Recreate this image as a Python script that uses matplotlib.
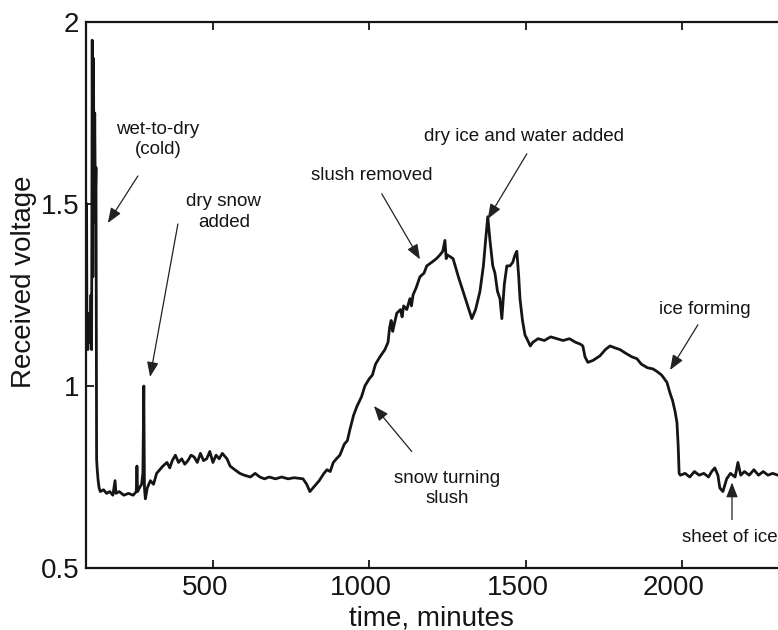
import matplotlib
matplotlib.use("Agg")
from matplotlib import pyplot as plt
import matplotlib.transforms as mtransforms

plt.rcParams['font.family'] = ['Liberation Sans', 'DejaVu Sans']

# received voltage trace (time in minutes)
time_min = [
    96, 97, 98, 100, 102, 104, 106, 108, 110, 112, 114, 116, 118, 120, 122, 124, 126, 127,
    128, 130, 133, 136, 140, 150, 160, 170, 180, 187, 190, 200, 215, 230, 245, 255,
    257, 259, 265, 272, 276, 279, 281, 284, 290, 300, 310, 320, 330, 340, 353, 362,
    370, 380, 390, 400, 410, 420, 430, 440, 450, 460, 470, 480, 490, 500, 510, 520,
    530, 545, 555, 570, 586, 600, 620, 635, 650, 665, 680, 700, 720, 740, 760, 788,
    800, 810, 820, 840, 855, 865, 875, 885, 895, 906, 920, 930, 938, 950, 961, 975,
    986, 1000, 1010, 1020, 1034, 1050, 1060, 1065, 1070, 1075, 1080, 1088, 1100, 1105,
    1110, 1120, 1130, 1135, 1140, 1150, 1162, 1175, 1184, 1200, 1215, 1226, 1235, 1242,
    1246, 1250, 1268, 1285, 1300, 1315, 1328, 1340, 1354, 1365, 1372, 1379, 1386, 1395,
    1402, 1410, 1418, 1424, 1432, 1440, 1450, 1459, 1466, 1472, 1478, 1482, 1490, 1498,
    1504, 1515, 1523, 1540, 1560, 1580, 1600, 1620, 1640, 1660, 1675, 1683, 1690, 1699,
    1715, 1738, 1755, 1770, 1785, 1802, 1820, 1840, 1856, 1870, 1890, 1907, 1920, 1935,
    1952, 1962, 1970, 1978, 1984, 1988, 1991, 1995, 2010, 2025, 2040, 2055, 2070, 2085,
    2095, 2105, 2115, 2121, 2131, 2143, 2155, 2170, 2179, 2188, 2200, 2215, 2230, 2245,
    2260, 2275, 2290, 2307, 2330, 2360, 2400, 2450, 2500,
]
voltage = [
    1.50, 1.15, 1.20, 1.10, 1.18, 1.12, 1.20, 1.15, 1.25, 1.10, 1.95, 1.30, 1.90, 1.45, 1.75, 1.50, 1.60, 1.20,
    0.80, 0.77, 0.74, 0.72, 0.71, 0.715, 0.705, 0.71, 0.70, 0.74, 0.705, 0.71, 0.70, 0.705, 0.70, 0.71,
    0.78, 0.71, 0.72, 0.73, 0.76, 1.00, 0.72, 0.69, 0.72, 0.74, 0.73, 0.76, 0.77, 0.78, 0.79, 0.775,
    0.795, 0.81, 0.79, 0.80, 0.785, 0.795, 0.81, 0.805, 0.79, 0.815, 0.795, 0.80, 0.82, 0.79, 0.81, 0.80,
    0.815, 0.80, 0.78, 0.77, 0.76, 0.755, 0.75, 0.76, 0.75, 0.745, 0.75, 0.745, 0.75, 0.745, 0.748, 0.745,
    0.73, 0.71, 0.72, 0.74, 0.76, 0.77, 0.765, 0.79, 0.80, 0.81, 0.84, 0.85, 0.88, 0.92, 0.945, 0.97,
    1.00, 1.02, 1.03, 1.06, 1.08, 1.10, 1.12, 1.16, 1.18, 1.15, 1.17, 1.20, 1.21, 1.19,
    1.22, 1.21, 1.24, 1.22, 1.25, 1.27, 1.30, 1.31, 1.33, 1.34, 1.35, 1.36, 1.37, 1.40,
    1.35, 1.36, 1.35, 1.30, 1.26, 1.22, 1.185, 1.21, 1.26, 1.33, 1.40, 1.465, 1.40, 1.33,
    1.31, 1.26, 1.24, 1.185, 1.28, 1.33, 1.33, 1.34, 1.36, 1.37, 1.30, 1.24, 1.18, 1.14,
    1.13, 1.11, 1.12, 1.13, 1.125, 1.135, 1.13, 1.125, 1.13, 1.12, 1.115, 1.11, 1.08, 1.065,
    1.07, 1.083, 1.10, 1.11, 1.105, 1.10, 1.09, 1.08, 1.075, 1.06, 1.05, 1.047, 1.04, 1.03,
    1.01, 0.98, 0.96, 0.93, 0.90, 0.835, 0.76, 0.755, 0.76, 0.75, 0.765, 0.755, 0.76, 0.75,
    0.765, 0.775, 0.755, 0.72, 0.71, 0.745, 0.76, 0.75, 0.79, 0.755, 0.765, 0.755, 0.77, 0.755,
    0.765, 0.755, 0.76, 0.755, 0.76, 0.755, 0.76, 0.755, 0.76,
]

# annotations: text, text position, arrow tail, arrow head
notes = [
    ("wet-to-dry\n(cold)", (324, 1.677), (260, 1.577), (164, 1.448)),
    ("dry snow\nadded", (535, 1.478), (388, 1.445), (299, 1.025)),
    ("slush removed", (1008, 1.577), (1040, 1.528), (1162, 1.348)),
    ("dry ice and water added", (1495, 1.685), (1504, 1.638), (1379, 1.459)),
    ("ice forming", (2073, 1.21), (2051, 1.168), (1962, 1.044)),
    ("snow turning\nslush", (1248, 0.718), (1136, 0.82), (1015, 0.945)),
]

fig = plt.figure(figsize=(7.78, 6.30), dpi=100)
ax = fig.add_axes([0.1105, 0.0984, 0.967, 0.8667])

ax.plot(time_min, voltage, color="#151515", lw=2.0)

for text, tpos, tail, head in notes:
    ax.text(tpos[0], tpos[1], text, ha="center", va="center", fontsize=13.5, color="#151515",
            linespacing=1.25)
    ax.annotate("", xy=head, xytext=tail,
                arrowprops=dict(arrowstyle="-|>,head_length=0.9,head_width=0.35",
                                color="#222222", lw=0.9, shrinkA=0, shrinkB=0))

# sheet of ice label sits left aligned and runs off the page
ax.text(2000, 0.583, "sheet of ice", ha="left", va="center", fontsize=13.5, color="#151515")
ax.annotate("", xy=(2160, 0.735), xytext=(2160, 0.633),
            arrowprops=dict(arrowstyle="-|>,head_length=0.9,head_width=0.35",
                            color="#222222", lw=0.9, shrinkA=0, shrinkB=0))

ax.set_xlim(94, 2500)
ax.set_ylim(0.5, 2)
ax.set_xticks([500, 1000, 1500, 2000])
ax.set_yticks([0.5, 1, 1.5, 2])
ax.set_yticklabels(["0.5", "1", "1.5", "2"])
ax.tick_params(direction="in", length=6, width=1.3, top=True, right=True,
               labelsize=20, colors="#151515", pad=5)
for s in ax.spines.values():
    s.set_linewidth(1.6)
    s.set_color("#151515")

# x tick labels sit a little left of their ticks in the scan
shift = mtransforms.ScaledTranslation(-8 / 100, 0, fig.dpi_scale_trans)
for lab in ax.get_xticklabels():
    lab.set_transform(lab.get_transform() + shift)

ax.set_xlabel("time, minutes", fontsize=20, color="#151515")
ax.set_ylabel("Received voltage", fontsize=20, color="#151515")
ax.xaxis.set_label_coords(0.459, -0.068)
ax.yaxis.set_label_coords(-0.065, 0.524)

fig.savefig("out.png", dpi=100)
